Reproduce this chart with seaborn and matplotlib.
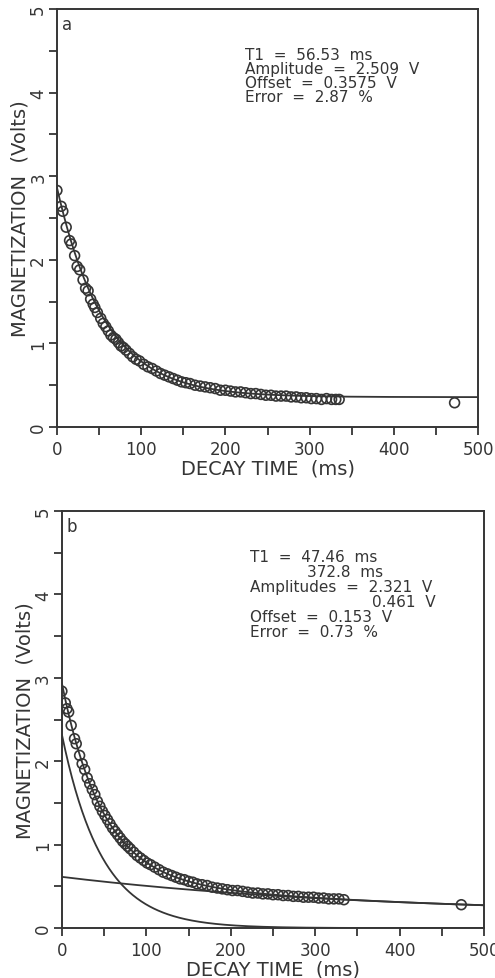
import numpy as np
import pandas as pd
import seaborn as sns
import matplotlib.pyplot as plt
from matplotlib.ticker import MultipleLocator

# --- panel a: single exponential ---
time_a = [0, 5, 7, 11, 15, 17, 21, 24, 27, 31, 34, 37, 40, 43, 45, 48, 52, 55, 58, 61,
          64, 67, 70, 73, 76, 79, 82, 86, 90, 94, 98, 103, 108, 113, 118, 123, 128, 133,
          138, 143, 148, 153, 158, 164, 170, 176, 182, 188, 194, 200, 206, 212, 218, 224,
          230, 236, 242, 248, 254, 260, 266, 272, 278, 284, 290, 296, 302, 308, 314, 320,
          326, 331, 335, 472]
mag_a = [2.83, 2.64, 2.58, 2.39, 2.23, 2.19, 2.05, 1.92, 1.88, 1.76, 1.66, 1.63, 1.53, 1.47,
         1.43, 1.37, 1.30, 1.24, 1.20, 1.15, 1.10, 1.07, 1.05, 1.01, 0.97, 0.95, 0.92, 0.88,
         0.84, 0.81, 0.79, 0.75, 0.72, 0.70, 0.67, 0.64, 0.62, 0.60, 0.58, 0.56, 0.54, 0.53,
         0.52, 0.50, 0.49, 0.48, 0.47, 0.46, 0.44, 0.44, 0.43, 0.42, 0.42, 0.41, 0.40, 0.40,
         0.39, 0.38, 0.38, 0.37, 0.37, 0.37, 0.36, 0.36, 0.35, 0.35, 0.34, 0.34, 0.33, 0.34,
         0.33, 0.33, 0.33, 0.29]
t1_a, amp_a, off_a = 56.53, 2.509, 0.3575

# --- panel b: double exponential ---
time_b = [0, 4, 6, 8, 11, 15, 17, 21, 24, 27, 30, 33, 36, 39, 42, 45, 48, 51, 54, 57, 60,
          63, 66, 69, 72, 75, 78, 81, 85, 89, 93, 97, 101, 105, 110, 115, 120, 125, 130,
          135, 140, 145, 150, 155, 160, 166, 172, 178, 184, 190, 196, 202, 208, 214, 220,
          226, 232, 238, 244, 250, 256, 262, 268, 274, 280, 286, 292, 298, 304, 310, 316,
          322, 328, 334, 473]
mag_b = [2.84, 2.70, 2.63, 2.59, 2.43, 2.27, 2.21, 2.07, 1.97, 1.90, 1.80, 1.73, 1.66, 1.60,
         1.52, 1.46, 1.40, 1.35, 1.30, 1.25, 1.20, 1.16, 1.12, 1.08, 1.04, 1.01, 0.98, 0.95,
         0.91, 0.87, 0.84, 0.81, 0.78, 0.76, 0.73, 0.70, 0.67, 0.65, 0.63, 0.61, 0.59, 0.58,
         0.56, 0.55, 0.53, 0.52, 0.51, 0.49, 0.48, 0.47, 0.46, 0.45, 0.45, 0.44, 0.43, 0.42,
         0.42, 0.41, 0.41, 0.40, 0.40, 0.39, 0.39, 0.38, 0.38, 0.37, 0.37, 0.37, 0.36, 0.36,
         0.35, 0.35, 0.35, 0.34, 0.28]
t1_fast, t1_slow = 47.46, 372.8
amp_fast, amp_slow, off_b = 2.321, 0.461, 0.153

ink = "#353535"

sns.set_style("ticks")
plt.rcParams["font.family"] = ["DejaVu Sans"]

fig = plt.figure(figsize=(4.95, 9.79), dpi=100)
ax_a = fig.add_axes([0.115, 0.5628, 0.851, 0.427])
ax_b = fig.add_axes([0.125, 0.051, 0.853, 0.426])

t_fit = np.linspace(0, 500, 501)
fit_a = pd.DataFrame({"t": t_fit, "m": off_a + amp_a * np.exp(-t_fit / t1_a)})
fit_b = pd.DataFrame({
    "t": t_fit,
    "total": off_b + amp_fast * np.exp(-t_fit / t1_fast) + amp_slow * np.exp(-t_fit / t1_slow),
    "fast": amp_fast * np.exp(-t_fit / t1_fast),
    "slow": off_b + amp_slow * np.exp(-t_fit / t1_slow),
})

# panel a
sns.lineplot(data=fit_a, x="t", y="m", ax=ax_a, color=ink, linewidth=1.3)
sns.scatterplot(x=time_a, y=mag_a, ax=ax_a, marker="o", s=50, facecolor="none",
                edgecolor=ink, linewidth=1.2, zorder=5)

# panel b
for col in ["total", "fast", "slow"]:
    sns.lineplot(data=fit_b, x="t", y=col, ax=ax_b, color=ink, linewidth=1.3)
sns.scatterplot(x=time_b, y=mag_b, ax=ax_b, marker="o", s=50, facecolor="none",
                edgecolor=ink, linewidth=1.2, zorder=5)

for ax in (ax_a, ax_b):
    ax.set_xlim(0, 500)
    ax.set_ylim(0, 5)
    ax.xaxis.set_major_locator(MultipleLocator(100))
    ax.xaxis.set_minor_locator(MultipleLocator(50))
    ax.yaxis.set_major_locator(MultipleLocator(1))
    ax.yaxis.set_minor_locator(MultipleLocator(0.5))
    ax.tick_params(which="both", direction="out", length=6, width=1.3, color=ink,
                   labelcolor=ink, labelsize=12)
    ax.tick_params(axis="y", labelrotation=90, pad=1)
    for lab in ax.get_yticklabels():
        lab.set_va("center")
    for sp in ax.spines.values():
        sp.set_visible(True)
        sp.set_linewidth(1.4)
        sp.set_color(ink)
    ax.set_ylabel("MAGNETIZATION  (Volts)", fontsize=14, color=ink, labelpad=0)
    ax.set_xlabel("DECAY TIME  (ms)", fontsize=14, color=ink, labelpad=0)

txt = dict(fontsize=11, color=ink, va="top")
ax_a.text(0.012, 0.985, "a", transform=ax_a.transAxes, fontsize=12, color=ink, va="top")
ax_a.text(223, 4.55, "T1  =  56.53  ms", **txt)
ax_a.text(223, 4.38, "Amplitude  =  2.509  V", **txt)
ax_a.text(223, 4.21, "Offset  =  0.3575  V", **txt)
ax_a.text(223, 4.04, "Error  =  2.87  %", **txt)

ax_b.text(0.012, 0.985, "b", transform=ax_b.transAxes, fontsize=12, color=ink, va="top")
ax_b.text(223, 4.55, "T1  =  47.46  ms", **txt)
ax_b.text(380, 4.37, "372.8  ms", ha="right", **txt)
ax_b.text(223, 4.19, "Amplitudes  =  2.321  V", **txt)
ax_b.text(443, 4.01, "0.461  V", ha="right", **txt)
ax_b.text(223, 3.83, "Offset  =  0.153  V", **txt)
ax_b.text(223, 3.65, "Error  =  0.73  %", **txt)

fig.savefig("out.png", dpi=100, facecolor="white")
